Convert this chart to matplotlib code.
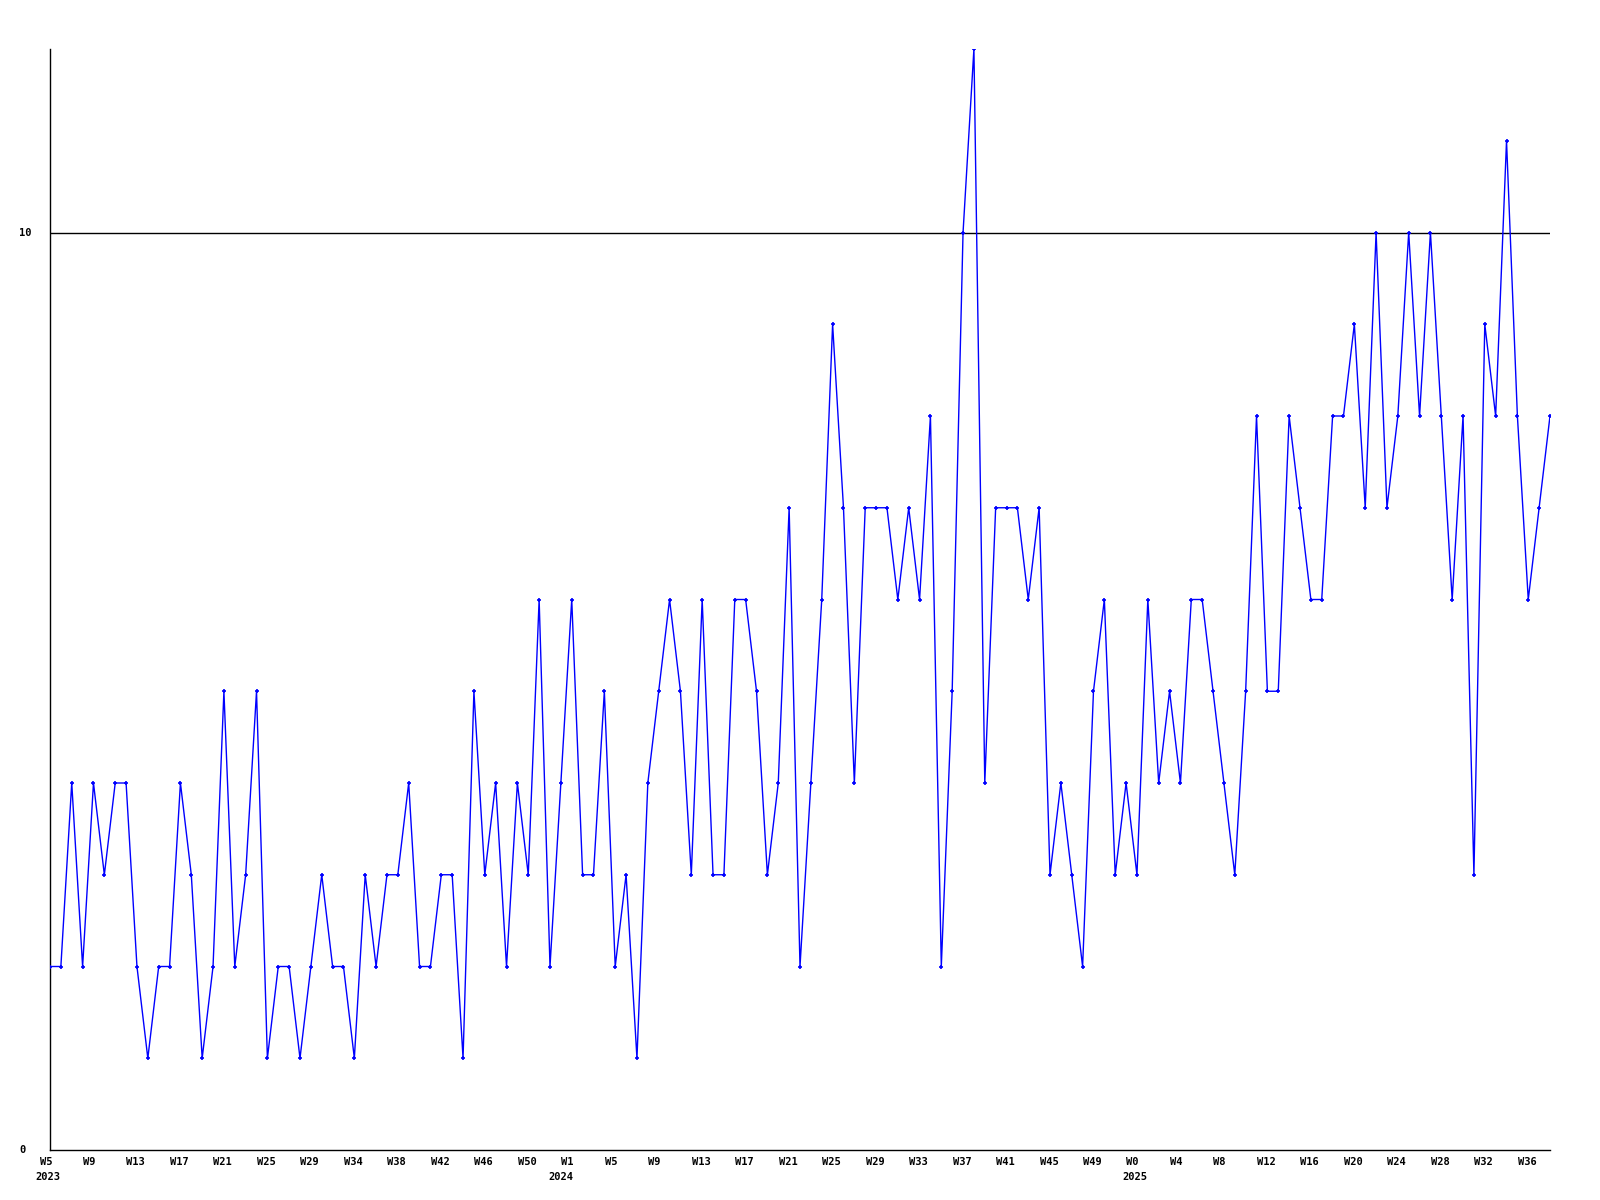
import matplotlib
matplotlib.use("Agg")
import matplotlib.pyplot as plt
import matplotlib.transforms as mtransforms

# weekly counts, one value per week starting at W5 2023
counts = [
    2, 2, 4, 2, 4, 3, 4, 4, 2, 1, 2, 2, 4, 3, 1, 2, 5, 2, 3, 5,
    1, 2, 2, 1, 2, 3, 2, 2, 1, 3, 2, 3, 3, 4, 2, 2, 3, 3, 1, 5,
    3, 4, 2, 4, 3, 6, 2, 4, 6, 3, 3, 5, 2, 3, 1, 4, 5, 6, 5, 3,
    6, 3, 3, 6, 6, 5, 3, 4, 7, 2, 4, 6, 9, 7, 4, 7, 7, 7, 6, 7,
    6, 8, 2, 5, 10, 12, 4, 7, 7, 7, 6, 7, 3, 4, 3, 2, 5, 6, 3, 4,
    3, 6, 4, 5, 4, 6, 6, 5, 4, 3, 5, 8, 5, 5, 8, 7, 6, 6, 8, 8,
    9, 7, 10, 7, 8, 10, 8, 10, 8, 6, 8, 3, 9, 8, 11, 8, 6, 7, 8,
]

# one label every 4 weeks
week_labels = [
    "W5", "W9", "W13", "W17", "W21", "W25", "W29", "W34", "W38", "W42",
    "W46", "W50", "W1", "W5", "W9", "W13", "W17", "W21", "W25", "W29",
    "W33", "W37", "W41", "W45", "W49", "W0", "W4", "W8", "W12", "W16",
    "W20", "W24", "W28", "W32", "W36",
]
label_step = 4

years = ["2023", "2024", "2025"]
year_weeks = [0, 47.2, 100]

y_ticks = [0, 10]


def main():
    fig = plt.figure(figsize=(16, 12), dpi=100)
    ax = fig.add_axes([50 / 1600, 1 - 1150 / 1200, 1500 / 1600, 1101 / 1200])

    x = list(range(len(counts)))

    ax.axhline(10, color="black", linewidth=1.0, zorder=1)
    ax.plot(x, counts, color="#0000ff", linewidth=1.0,
            marker="+", markersize=3.5, markeredgewidth=1.2, zorder=3)

    ax.set_xlim(0, len(counts) - 1)
    ax.set_ylim(0, 12)

    for side in ["top", "right"]:
        ax.spines[side].set_visible(False)
    for side in ["left", "bottom"]:
        ax.spines[side].set_color("black")
        ax.spines[side].set_linewidth(1.0)

    ax.set_xticks([])
    ax.set_yticks([])

    font = dict(family="DejaVu Sans Mono", fontweight="bold", fontsize=7.5)

    # week labels: left edge a little before the tick
    shift = mtransforms.ScaledTranslation(-10.5 / 100, 0, fig.dpi_scale_trans)
    xtrans = ax.get_xaxis_transform() + shift
    for i, label in enumerate(week_labels):
        ax.text(i * label_step, -12 / 1101, label, transform=xtrans,
                ha="left", va="center", **font)

    shift_year = mtransforms.ScaledTranslation(-15 / 100, 0, fig.dpi_scale_trans)
    ytrans = ax.get_xaxis_transform() + shift_year
    for year, wk in zip(years, year_weeks):
        ax.text(wk, -27 / 1101, year, transform=ytrans,
                ha="left", va="center", **font)

    # y labels, left aligned near the figure edge
    lab_trans = mtransforms.blended_transform_factory(fig.transFigure, ax.transData)
    for v in y_ticks:
        ax.text(19 / 1600, v, str(v), transform=lab_trans,
                ha="left", va="center", **font)

    fig.savefig("out.png", dpi=100, facecolor="white")
    plt.close(fig)


if __name__ == "__main__":
    main()
